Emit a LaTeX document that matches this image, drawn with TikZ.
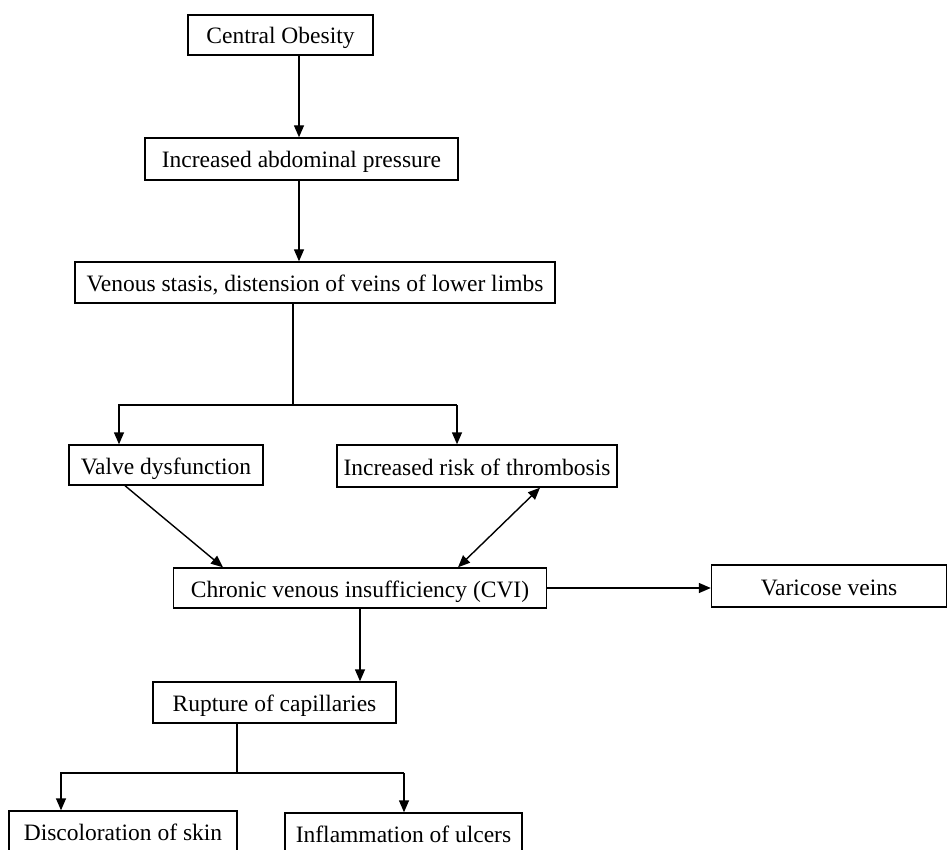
\documentclass[tikz,border=0pt]{standalone}
\usepackage{fontspec}
\setmainfont{Liberation Serif}
\usetikzlibrary{arrows.meta}
\begin{document}
\begin{tikzpicture}[x=1pt,y=-1pt,
  box/.style={draw, line width=1.4pt, inner sep=0pt, align=center,
    text height=20pt, text depth=2pt,
    font=\fontsize{23.5}{27}\selectfont},
  link/.style={line width=1.4pt},
  arr/.style={link, -{Triangle[length=12pt,width=10pt]}},
  darr/.style={link, {Triangle[length=12pt,width=10pt]}-{Triangle[length=12pt,width=10pt]}}]
\useasboundingbox (0,0) rectangle (947,850);
\clip (0,0) rectangle (947,850);

% boxes
\node[box, minimum width=185pt, minimum height=40pt] (co) at (280.5,35) {Central Obesity};
\node[box, minimum width=313pt, minimum height=42pt] (ap) at (301.5,159) {Increased abdominal pressure};
\node[box, minimum width=480pt, minimum height=41pt] (vs) at (315,282.5) {Venous stasis, distension of veins of lower limbs};
\node[box, minimum width=194pt, minimum height=40pt] (vd) at (166,465) {Valve dysfunction};
\node[box, minimum width=280pt, minimum height=42pt] (rt) at (477,466) {Increased risk of thrombosis};
\node[box, minimum width=373pt, minimum height=40pt] (cvi) at (360,588) {Chronic venous insufficiency (CVI)};
\node[box, minimum width=235pt, minimum height=42pt] (vv) at (829,586) {Varicose veins};
\node[box, minimum width=243pt, minimum height=41pt] (rc) at (274.5,702.5) {Rupture of capillaries};
\node[box, minimum width=228pt, minimum height=40pt] (ds) at (123,831) {Discoloration of skin};
\node[box, minimum width=237pt, minimum height=40pt] (ia) at (403.5,833) {Inflammation of ulcers};

% branching points and connector ends
\coordinate (j1) at (293,405);
\coordinate (b1) at (119,405);
\coordinate (b2) at (457,405);
\coordinate (j2) at (237,773);
\coordinate (b3) at (61,773);
\coordinate (b4) at (404,773);
\coordinate (vdout) at (125,0);
\coordinate (cviin) at (223,0);
\coordinate (rtout) at (540,0);
\coordinate (cviin2) at (458,0);
\coordinate (apx) at (299,0);

% connectors
\draw[arr] (co.south -| apx) -- (ap.north -| apx);
\draw[arr] (ap.south -| apx) -- (vs.north -| apx);
\draw[link] (vs.south -| j1) -- (j1);
\draw[arr] (b2) -- (b1) -- (vd.north -| b1);
\draw[arr] (b2) -- (rt.north -| b2);
\draw[arr] (vd.south -| vdout) -- (cvi.north -| cviin);
\draw[darr] (rt.south -| rtout) -- (cvi.north -| cviin2);
\draw[arr] (cvi.east) -- (vv.west |- cvi.east);
\draw[arr] (cvi.south) -- (cvi.south |- rc.north);
\draw[link] (rc.south -| j2) -- (j2);
\draw[arr] (b4) -- (b3) -- (ds.north -| b3);
\draw[arr] (b4) -- (ia.north -| b4);
\end{tikzpicture}
\end{document}
